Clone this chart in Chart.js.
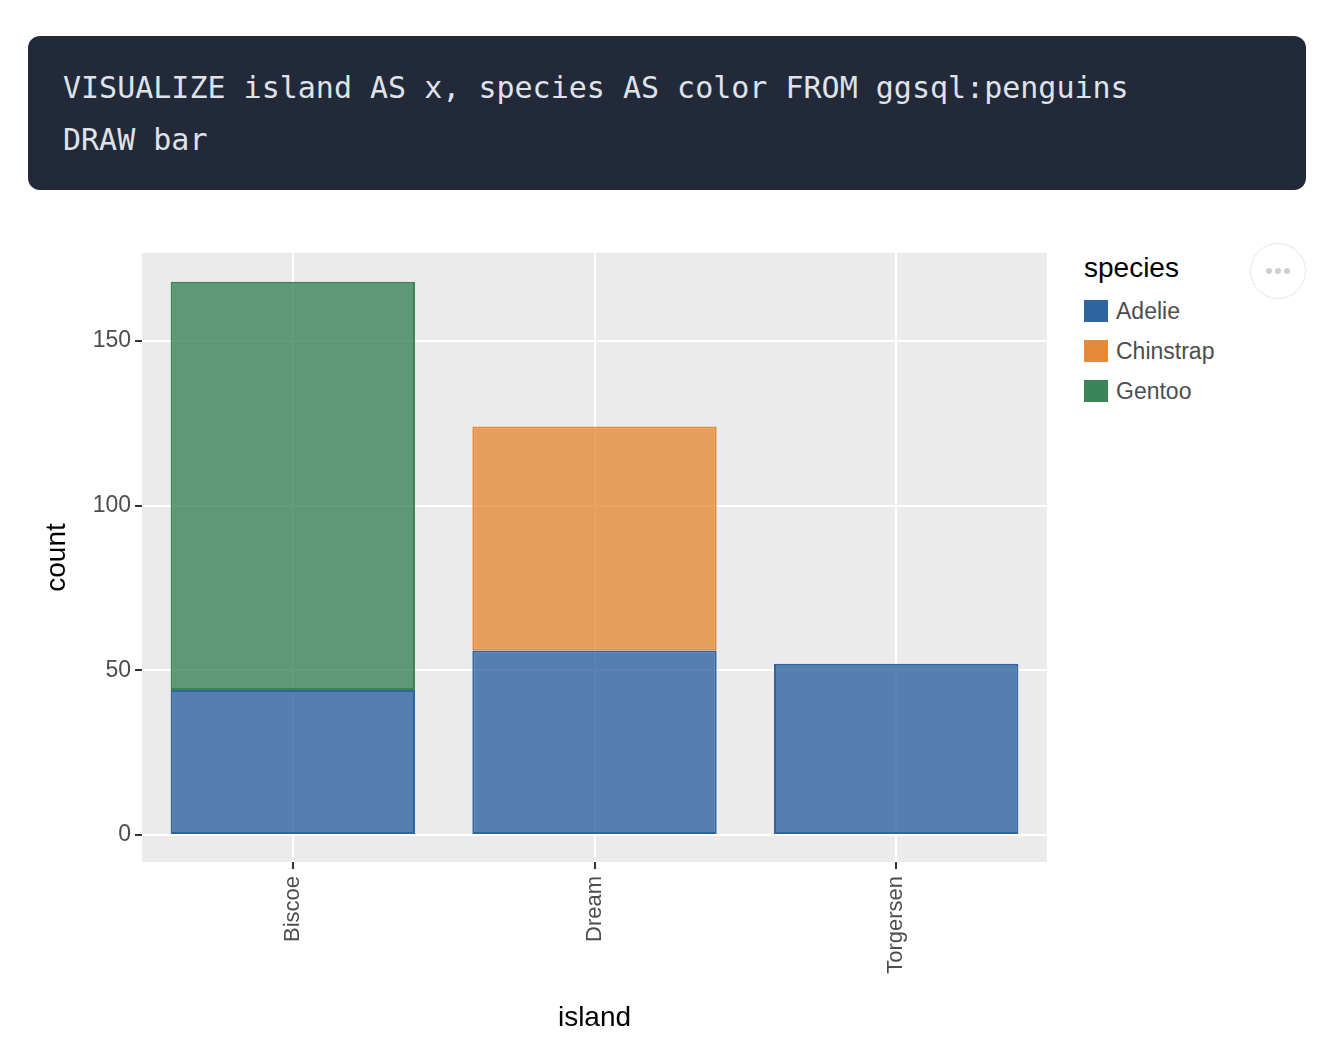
<!DOCTYPE html>
<html>
<head>
<meta charset="utf-8">
<script src="https://cdn.jsdelivr.net/npm/chart.js@4"></script>
<style>
body{margin:0;background:#fff;width:1332px;height:1048px;position:relative;overflow:hidden;font-family:"Liberation Sans",Arial,sans-serif}
#code{position:absolute;left:28px;top:36px;width:1278px;height:154px;background:#222a3a;border-radius:12px;box-sizing:border-box;padding:26px 0 0 35px;color:#dfe2e8;font-family:"DejaVu Sans Mono","Liberation Mono",monospace;font-size:30px;line-height:52px;white-space:pre}
#wrap{position:absolute;left:0;top:200px;width:1060px;height:848px}
#legend{position:absolute;left:1084px;top:250px}
#legend .ttl{font-size:28px;color:#000;height:41px;line-height:36px}
#legend .item{height:40px;display:flex;align-items:center;font-size:23px;color:#4d4d4d}
#legend .sw{width:24px;height:22px;margin-right:8px;box-sizing:border-box}
#more{position:absolute;left:1250px;top:243px;width:56px;height:56px;border:1.5px solid #e6e6e6;border-radius:50%;box-sizing:border-box;display:flex;align-items:center;justify-content:center;gap:3px}
#more span{width:6px;height:6px;border-radius:50%;background:#cfcfcf}
</style>
</head>
<body>
<div id="code">VISUALIZE island AS x, species AS color FROM ggsql:penguins
DRAW bar</div>
<div id="wrap"><canvas id="myChart"></canvas></div>
<div id="legend"></div>
<div id="more"><span></span><span></span><span></span></div>
<script>
const islands = ["Biscoe", "Dream", "Torgersen"];
const species = ["Adelie", "Chinstrap", "Gentoo"];
const adelie = [44, 56, 52];
const chinstrap = [null, 68, null];
const gentoo = [124, null, null];
const yTicks = [0, 50, 100, 150];
const speciesColors = ["#2e64a0", "#e68a37", "#3a8458"];
const fillColors = ["rgba(46,100,160,0.8)", "rgba(230,138,55,0.8)", "rgba(58,132,88,0.8)"];

var legend = document.getElementById("legend");
legend.innerHTML = '<div class="ttl">species</div>';
species.forEach(function(s, i){
  legend.innerHTML += '<div class="item"><div class="sw" style="background:' + speciesColors[i] + '"></div>' + s + '</div>';
});

const panelBg = {
  id: "panelBg",
  beforeDraw(chart){
    const a = chart.chartArea, ctx = chart.ctx;
    ctx.save();
    ctx.fillStyle = "#ebebeb";
    ctx.fillRect(a.left, a.top, a.right - a.left, a.bottom - a.top);
    ctx.restore();
  }
};

const series = [adelie, chinstrap, gentoo];

new Chart("myChart", {
  type: "bar",
  data: {
    labels: islands,
    datasets: species.map(function(s, i){
      return {
        label: s,
        data: series[i],
        backgroundColor: fillColors[i],
        borderColor: speciesColors[i],
        borderWidth: 2,
        borderSkipped: false,
        categoryPercentage: 1,
        barPercentage: 0.81
      };
    })
  },
  options: {
    responsive: true,
    maintainAspectRatio: false,
    animation: false,
    layout: {padding: {top: 53, right: 13, left: 0, bottom: 0}},
    plugins: {legend: {display: false}, tooltip: {enabled: false}},
    scales: {
      x: {
        stacked: true,
        offset: true,
        afterFit: function(s){ s.height = 186; },
        grid: {offset: false, color: "#ffffff", lineWidth: 2, tickColor: "#333333", tickWidth: 2, tickLength: 7},
        border: {display: false},
        ticks: {minRotation: 90, maxRotation: 90, padding: 7, color: "#4d4d4d", font: {family: "Liberation Sans", size: 22}},
        title: {display: true, text: "island", color: "#000", font: {family: "Liberation Sans", size: 28}, padding: {top: 0, bottom: 13}}
      },
      y: {
        stacked: true,
        min: -8.2,
        max: 176.7,
        afterFit: function(s){ s.width = 142; },
        afterBuildTicks: function(s){ s.ticks = yTicks.map(function(v){ return {value: v}; }); },
        grid: {color: "#ffffff", lineWidth: 2, tickColor: "#333333", tickWidth: 2, tickLength: 7},
        border: {display: false},
        ticks: {padding: 4, color: "#4d4d4d", font: {family: "Liberation Sans", size: 23}},
        title: {display: true, text: "count", color: "#000", font: {family: "Liberation Sans", size: 28}, padding: {top: 40, bottom: 0}}
      }
    }
  },
  plugins: [panelBg]
});
</script>
</body>
</html>
